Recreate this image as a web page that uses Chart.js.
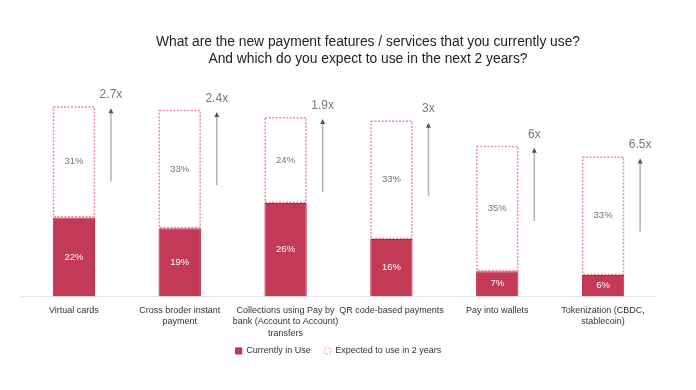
<!DOCTYPE html>
<html>
<head>
<meta charset="utf-8">
<script src="https://cdn.jsdelivr.net/npm/chart.js@4/dist/chart.umd.min.js"></script>
<style>
    body { margin: 0; background: #fff; }
    .wrap { position: relative; width: 696px; height: 390px; }
    .title {
        position: absolute; left: 40px; width: 656px; top: 33px;
        text-align: center; font: 13.8px "Liberation Sans", Arial, sans-serif;
        line-height: 17px; color: #222;
    }
</style>
</head>
<body>
<div class="wrap">
    <div class="title">What are the new payment features / services that you currently use?<br>And which do you expect to use in the next 2 years?</div>
    <canvas id="chart" width="696" height="390"></canvas>
</div>
<script>
// chart data
const categories = [
    ["Virtual cards"],
    ["Cross broder instant", "payment"],
    ["Collections using Pay by", "bank (Account to Account)", "transfers"],
    ["QR code-based payments"],
    ["Pay into wallets"],
    ["Tokenization (CBDC,", "stablecoin)"]
];
const currentlyInUse = [22, 19, 26, 16, 7, 6];
const expectedIn2Years = [31, 33, 24, 33, 35, 33];
const growthLabels = ["2.7x", "2.4x", "1.9x", "3x", "6x", "6.5x"];

const RED = "#c23a55";
const PINK = "#e98fa0";
const FONT = '"Liberation Sans", Arial, sans-serif';

// dotted outline for the "expected" bars (bar elements ignore borderDash)
const dottedBars = {
    id: "dottedBars",
    afterDatasetsDraw(chart) {
        const ctx = chart.ctx;
        const meta = chart.getDatasetMeta(1);
        ctx.save();
        ctx.strokeStyle = PINK;
        ctx.lineWidth = 1.5;
        ctx.setLineDash([2, 1.5]);
        meta.data.forEach(bar => {
            const p = bar.getProps(["x", "y", "base", "width"], true);
            ctx.strokeRect(p.x - p.width / 2 + 0.75, p.y + 0.75, p.width - 1.5, p.base - p.y - 1.5);
        });
        ctx.restore();
    }
};

// percentage labels inside each bar segment
const segmentLabels = {
    id: "segmentLabels",
    afterDatasetsDraw(chart) {
        const ctx = chart.ctx;
        ctx.save();
        ctx.font = "9.5px " + FONT;
        ctx.textAlign = "center";
        ctx.textBaseline = "middle";
        chart.data.datasets.forEach((ds, di) => {
            const meta = chart.getDatasetMeta(di);
            ctx.fillStyle = di === 0 ? "#fff" : "#777";
            meta.data.forEach((bar, i) => {
                const p = bar.getProps(["x", "y", "base"], true);
                ctx.fillText(ds.data[i] + "%", p.x, (p.y + p.base) / 2);
            });
        });
        ctx.restore();
    }
};

// growth arrows next to each bar
const growthArrows = {
    id: "growthArrows",
    afterDatasetsDraw(chart) {
        const ctx = chart.ctx;
        const xs = chart.scales.x, ys = chart.scales.y;
        const step = xs.width / categories.length;
        ctx.save();
        categories.forEach((c, i) => {
            const total = currentlyInUse[i] + expectedIn2Years[i];
            const x = xs.getPixelForValue(i) + step * 0.35;
            const top = ys.getPixelForValue(total - 0.6);
            const bottom = ys.getPixelForValue(total - 21);
            ctx.strokeStyle = "#b3b3b3";
            ctx.lineWidth = 1.5;
            ctx.beginPath();
            ctx.moveTo(x, bottom);
            ctx.lineTo(x, top + 3);
            ctx.stroke();
            ctx.fillStyle = "#555";
            ctx.beginPath();
            ctx.moveTo(x, top);
            ctx.lineTo(x - 2.5, top + 5);
            ctx.lineTo(x + 2.5, top + 5);
            ctx.closePath();
            ctx.fill();
            ctx.font = "12px " + FONT;
            ctx.fillStyle = "#777";
            ctx.textAlign = "center";
            ctx.textBaseline = "middle";
            ctx.fillText(growthLabels[i], x, top - 13.5);
        });
        ctx.restore();
    }
};

// pull the legend up closer to the category labels
const legendShift = {
    id: "legendShift",
    afterLayout(chart) {
        const lg = chart.legend;
        const h = lg.bottom - lg.top;
        lg.top = chart.chartArea.bottom + 36;
        lg.bottom = lg.top + h;
    }
};

new Chart(document.getElementById("chart"), {
    type: "bar",
    data: {
        labels: categories,
        datasets: [{
            label: "Currently in Use",
            data: currentlyInUse,
            backgroundColor: RED,
            borderColor: "#b8203f",
            borderWidth: 1,
            borderSkipped: "bottom"
        }, {
            label: "Expected to use in 2 years",
            data: expectedIn2Years,
            backgroundColor: "#fff",
            borderWidth: 0
        }]
    },
    options: {
        responsive: false,
        animation: false,
        datasets: { bar: { categoryPercentage: 1, barPercentage: 0.4 } },
        layout: { padding: { top: 81, left: 21, right: 40, bottom: 10 } },
        scales: {
            x: {
                stacked: true,
                grid: { display: false, drawTicks: false },
                border: { display: true, color: "#e6e6e6", width: 1 },
                ticks: {
                    color: "#333",
                    padding: 8,
                    maxRotation: 0,
                    autoSkip: false,
                    font: { family: FONT, size: 9, lineHeight: 1.28 }
                }
            },
            y: {
                stacked: true,
                display: false,
                min: 0,
                max: 60
            }
        },
        plugins: {
            legend: {
                position: "bottom",
                labels: {
                    boxWidth: 6,
                    boxHeight: 6,
                    padding: 14,
                    color: "#333",
                    font: { family: FONT, size: 9 },
                    generateLabels(chart) {
                        const items = Chart.defaults.plugins.legend.labels.generateLabels(chart);
                        items[1].fillStyle = "#fff";
                        items[1].strokeStyle = PINK;
                        items[1].lineWidth = 1;
                        items[1].lineDash = [1.5, 1.5];
                        return items;
                    }
                }
            },
            tooltip: { enabled: false }
        }
    },
    plugins: [dottedBars, segmentLabels, growthArrows, legendShift]
});
</script>
</body>
</html>
